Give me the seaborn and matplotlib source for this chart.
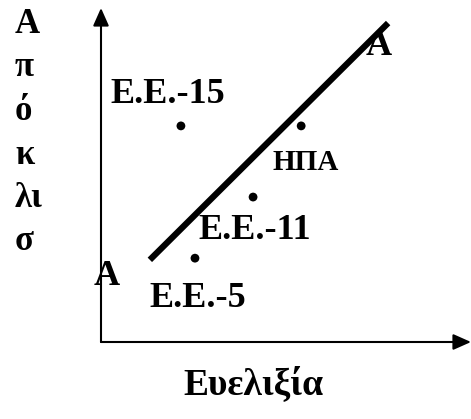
import matplotlib
matplotlib.use("Agg")
import matplotlib.pyplot as plt
import seaborn as sns
import pandas as pd

# Economies placed by flexibility (x) and deviation (y)
economies = ["Ε.Ε.-15", "ΗΠΑ", "Ε.Ε.-11", "Ε.Ε.-5"]
flexibility = [2.16, 5.41, 4.11, 2.54]
deviation = [6.47, 6.47, 4.34, 2.51]

# The AA line
aa_x = [1.32, 7.76]
aa_y = [2.46, 9.55]

x_label = "Ευελιξία"
y_label = "Α\nπ\nό\nκ\nλι\nσ"

sns.set_theme(style="white")
plt.rcParams["font.family"] = ["Liberation Serif", "DejaVu Serif"]
plt.rcParams["font.weight"] = "bold"
plt.rcParams["text.color"] = "black"

W, H = 471, 419
fig = plt.figure(figsize=(W / 100, H / 100), dpi=100)
ax = fig.add_axes([101 / W, (H - 342) / H, (471 - 101) / W, (342 - 8) / H])
ax.set_xlim(0, 10)
ax.set_ylim(0, 10)
ax.set_axis_off()

# Axes drawn as arrows
arrow = dict(arrowstyle="-|>,head_length=0.9,head_width=0.4", color="black",
             lw=1.5, mutation_scale=12, shrinkA=0, shrinkB=0)
ax.annotate("", xy=(1, 0), xytext=(0, 0), xycoords="axes fraction",
            textcoords="axes fraction", arrowprops=arrow, annotation_clip=False)
ax.annotate("", xy=(0, 1), xytext=(0, 0), xycoords="axes fraction",
            textcoords="axes fraction", arrowprops=arrow, annotation_clip=False)

df = pd.DataFrame({"flexibility": flexibility, "deviation": deviation,
                   "economy": economies})
line = pd.DataFrame({"x": aa_x, "y": aa_y})

sns.lineplot(data=line, x="x", y="y", ax=ax, color="black", lw=4.5,
             solid_capstyle="butt")
sns.scatterplot(data=df, x="flexibility", y="deviation", ax=ax, color="black",
                s=40, edgecolor="none", legend=False)

offsets = {"Ε.Ε.-15": (-9.4, 22.3), "ΗΠΑ": (2.9, -26.6),
           "Ε.Ε.-11": (1.4, -23.8), "Ε.Ε.-5": (2.2, -28.8)}
sizes = {"Ε.Ε.-15": 26, "ΗΠΑ": 21, "Ε.Ε.-11": 26, "Ε.Ε.-5": 26}
for name, xv, yv in zip(economies, flexibility, deviation):
    ax.annotate(name, (xv, yv), xytext=offsets[name], textcoords="offset points",
                ha="center", va="center", fontsize=sizes[name], fontweight="bold")

# End labels of the AA line
ax.annotate("Α", (aa_x[1], aa_y[1]), xytext=(-7, -17), textcoords="offset points",
            ha="center", va="center", fontsize=26, fontweight="bold")
ax.annotate("Α", (aa_x[0], aa_y[0]), xytext=(-31, -12), textcoords="offset points",
            ha="center", va="center", fontsize=26, fontweight="bold")

fig.text(253 / W, 1 - 384 / H, x_label, ha="center", va="center",
         fontsize=27, fontweight="bold")
fig.text(15 / W, 1 - 8 / H, y_label, ha="left", va="top", fontsize=25,
         fontweight="bold", linespacing=1.42, multialignment="left")

fig.savefig("out.png", dpi=100)
